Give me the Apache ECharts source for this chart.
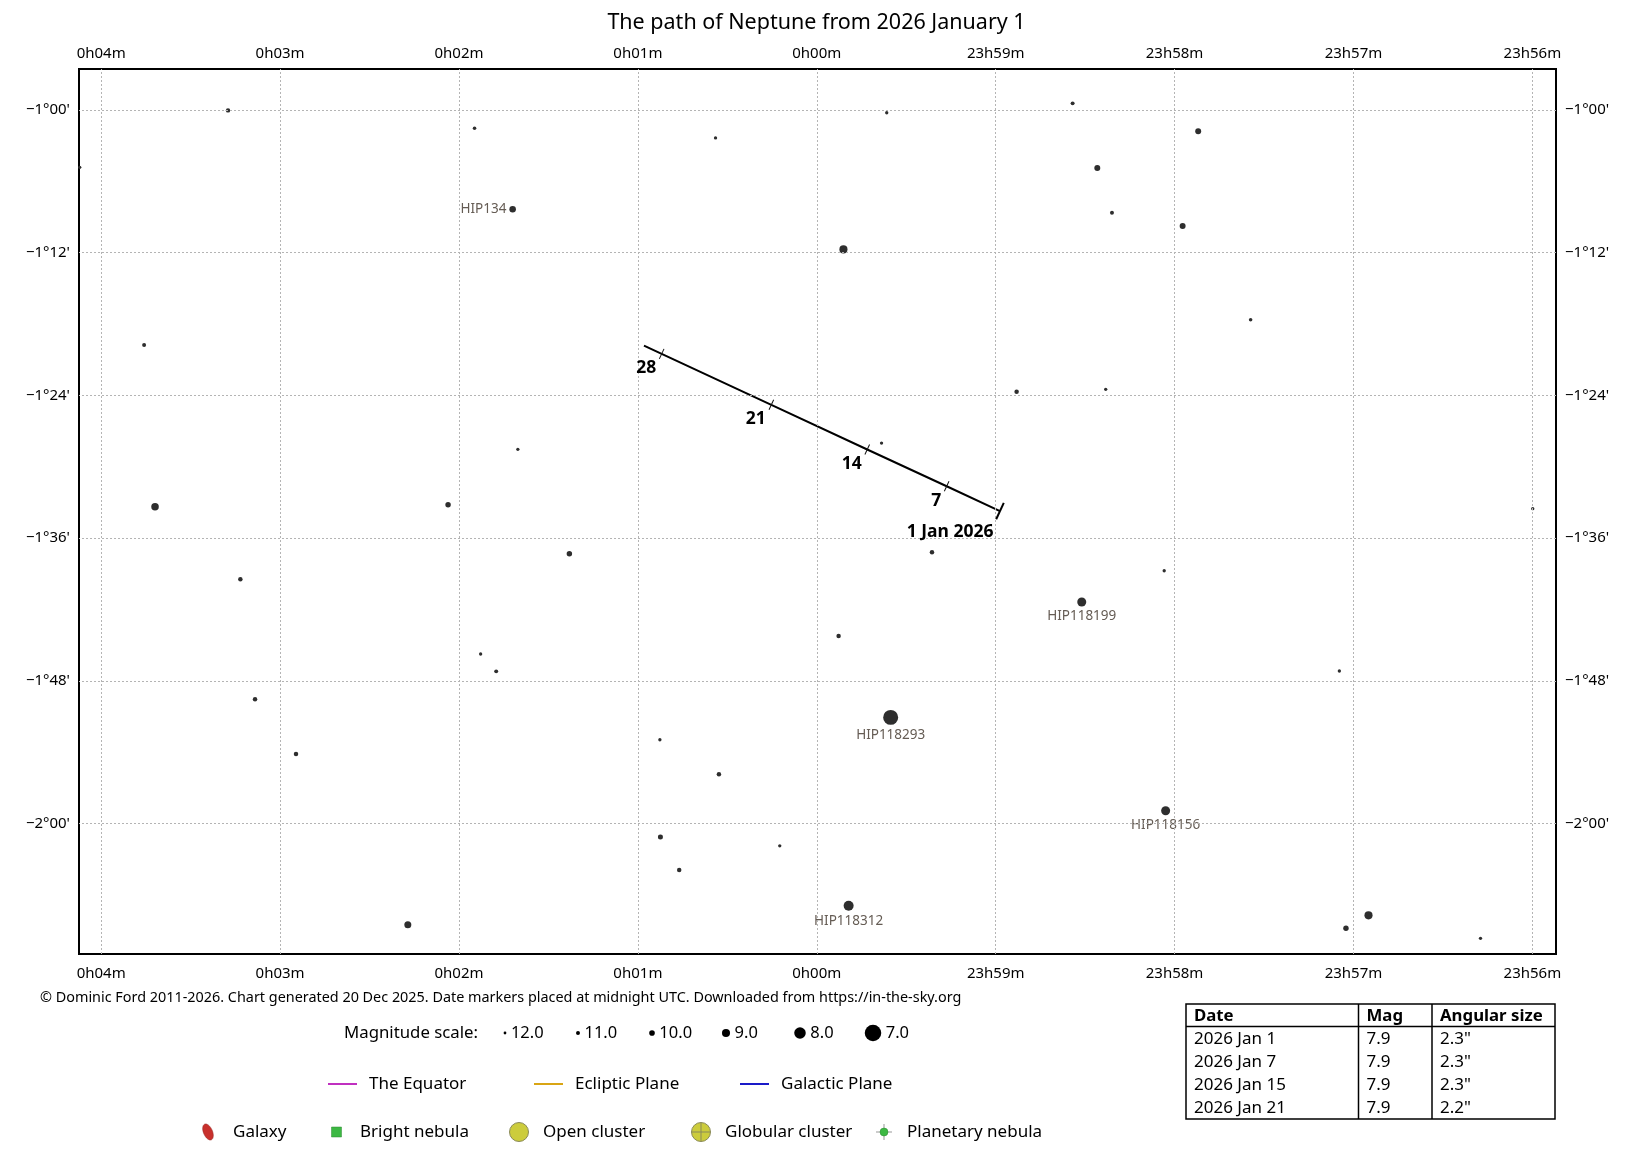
<!DOCTYPE html>
<html>
<head>
<meta charset="utf-8">
<title>The path of Neptune from 2026 January 1</title>
<script src="https://cdn.jsdelivr.net/npm/echarts@6/dist/echarts.min.js"></script>
<style>
  html, body { margin: 0; padding: 0; background: #fff; }
  #main { width: 1633px; height: 1151px; }
</style>
</head>
<body>
<div id="main"></div>
<script>
// RA in minutes of time from 0h00m (negative = 23h side), Dec in arcminutes
var raTicks = [-4, -3, -2, -1, 0, 1, 2, 3, 4];
var decTicks = [-120, -108, -96, -84, -72, -60];

var starRA = [3.291, 1.913, 0.566, 4.12, 1.700, 3.760, 1.671, 3.699, 2.061, -0.391,
  -1.430, -2.132, -1.568, -1.650, -2.045, -0.149, -2.425, -1.117, -1.615, -0.362,
  -4.002, 1.383, 3.222, 1.879, 1.792, 3.140, 2.911, 0.877, 0.547, 0.874,
  0.207, 0.769, 2.286, -0.644, -1.942, -1.481, -0.122, -2.921, -0.413, -1.950,
  -0.178, -3.084, -2.958, -3.710];
var starDec = [-60.03, -61.54, -62.35, -64.82, -68.35, -79.76, -88.54, -93.36, -93.20, -60.23,
  -59.44, -61.79, -64.88, -68.64, -69.76, -71.72, -77.64, -83.69, -83.49, -88.01,
  -93.53, -97.32, -99.47, -105.75, -107.21, -109.56, -114.16, -112.96, -115.87, -121.14,
  -121.88, -123.92, -128.52, -97.20, -98.75, -101.38, -104.24, -107.18, -111.08, -118.93,
  -126.92, -127.73, -128.82, -129.66];
var starMag = [10.7, 11.3, 11.5, 11.5, 9.6, 11.0, 11.5, 9.2, 10.1, 11.5,
  11.0, 9.85, 9.85, 11.0, 9.85, 9.0, 11.3, 10.65, 11.5, 11.5,
  11.5, 10.1, 10.65, 11.5, 11.0, 10.65, 10.65, 11.5, 10.65, 10.35,
  11.5, 10.65, 9.4, 10.65, 11.5, 8.7, 10.65, 11.5, 7.27, 8.7,
  8.4, 9.0, 10.1, 11.5];
var starName = ['', '', '', '', 'HIP134', '', '', '', '', '',
  '', '', '', '', '', '', '', '', '', '',
  '', '', '', '', '', '', '', '', '', '',
  '', '', '', '', '', 'HIP118199', '', '', 'HIP118293', 'HIP118156',
  'HIP118312', '', '', ''];

// Neptune, January 2026 (midnight UTC)
var pathDay = [1, 7, 14, 21, 28, 29];
var pathRA = [-1.024, -0.726, -0.282, 0.254, 0.867, 0.966];
var pathDec = [-93.73, -91.64, -88.55, -84.79, -80.51, -79.82];
var markDays = [1, 7, 14, 21, 28];

var magScale = [12, 11, 10, 9, 8, 7];

var tableHead = ['Date', 'Mag', 'Angular size'];
var tableDate = ['2026 Jan 1', '2026 Jan 7', '2026 Jan 15', '2026 Jan 21'];
var tableMag = ['7.9', '7.9', '7.9', '7.9'];
var tableSize = ['2.3"', '2.3"', '2.3"', '2.2"'];

var FONT = '"Noto Sans", "DejaVu Sans", sans-serif';

function starSize(m) { return 16.5 * Math.pow(0.7, m - 7); }

function raLabel(v) {
  var m = Math.round(v);
  return m >= 0 ? '0h0' + m + 'm' : '23h' + (60 + m) + 'm';
}
function decLabel(v) {
  var a = -Math.round(v), d = Math.floor(a / 60), m = a % 60;
  return '\u2212' + d + '\u00b0' + (m < 10 ? '0' : '') + m + "'";
}

var chart = echarts.init(document.getElementById('main'));

var starData = starRA.map(function (r, i) {
  var item = { value: [r, starDec[i], starMag[i]], name: starName[i] };
  if (starName[i]) {
    item.label = { show: true, position: starName[i] === 'HIP134' ? 'left' : 'bottom', distance: 3 };
  }
  return item;
});

var pathIdx = function (d) { return pathDay.indexOf(d); };
var tickData = markDays.filter(function (d) { return d !== 1; }).map(function (d) {
  var i = pathIdx(d);
  return [pathRA[i], pathDec[i], d];
});
var startData = [[pathRA[0], pathDec[0], 1]];
var labelData = markDays.map(function (d) {
  var i = pathIdx(d);
  var it = { value: [pathRA[i], pathDec[i], d] };
  if (d === 1) it.label = { position: [-6, 12] };
  return it;
});

// footer decoration
var graphic = [];
function txt(x, y, s, opt) {
  opt = opt || {};
  graphic.push({
    type: 'text', x: x, y: y, silent: true,
    style: {
      text: s, fill: opt.fill || '#000', fontSize: opt.size || 16, fontFamily: FONT,
      fontWeight: opt.weight || 'normal', align: opt.align || 'left', verticalAlign: 'middle'
    }
  });
}

txt(40, 998, '\u00a9 Dominic Ford 2011-2026. Chart generated 20 Dec 2025. Date markers placed at midnight UTC. Downloaded from https://in-the-sky.org', { size: 14.4 });

// magnitude scale
txt(344, 1033, 'Magnitude scale:', { size: 16.8 });
var magX = [505, 578, 652, 726, 800, 873];
magScale.forEach(function (m, i) {
  var r = starSize(m) / 2;
  graphic.push({ type: 'circle', silent: true, shape: { cx: magX[i], cy: 1033, r: r }, style: { fill: '#000' } });
  txt(magX[i] + r + 4.5, 1033, m.toFixed(1), { size: 16.5 });
});

// reference lines legend
var planes = [['The Equator', '#c030c0', 328], ['Ecliptic Plane', '#d9a514', 534], ['Galactic Plane', '#1a1ac8', 740]];
planes.forEach(function (p) {
  graphic.push({ type: 'line', silent: true, shape: { x1: p[2], y1: 1084, x2: p[2] + 29, y2: 1084 }, style: { stroke: p[1], lineWidth: 2 } });
  txt(p[2] + 41, 1084, p[0], { size: 17 });
});

// object types legend
var oy = 1132;
graphic.push({ type: 'ellipse', silent: true, x: 208, y: oy, rotation: 0.4, shape: { cx: 0, cy: 0, rx: 4.5, ry: 8.5 }, style: { fill: '#c8302c', stroke: '#9a2a26', lineWidth: 0.5 } });
txt(233, oy, 'Galaxy', { size: 17 });
graphic.push({ type: 'rect', silent: true, shape: { x: 331.5, y: oy - 5, width: 10, height: 10 }, style: { fill: '#3cb843', stroke: '#2e8a33', lineWidth: 0.5 } });
txt(360, oy, 'Bright nebula', { size: 17 });
graphic.push({ type: 'circle', silent: true, shape: { cx: 519, cy: oy, r: 9.5 }, style: { fill: '#cccc3c', stroke: '#8a8a5a', lineWidth: 1 } });
txt(543, oy, 'Open cluster', { size: 17 });
graphic.push({ type: 'circle', silent: true, shape: { cx: 701, cy: oy, r: 9.5 }, style: { fill: '#cccc3c', stroke: '#8a8a5a', lineWidth: 1 } });
graphic.push({ type: 'line', silent: true, shape: { x1: 691.5, y1: oy, x2: 710.5, y2: oy }, style: { stroke: '#8a8a5a', lineWidth: 1 } });
graphic.push({ type: 'line', silent: true, shape: { x1: 701, y1: oy - 9.5, x2: 701, y2: oy + 9.5 }, style: { stroke: '#8a8a5a', lineWidth: 1 } });
txt(725, oy, 'Globular cluster', { size: 17 });
graphic.push({ type: 'line', silent: true, shape: { x1: 876, y1: oy, x2: 892, y2: oy }, style: { stroke: '#999', lineWidth: 1 } });
graphic.push({ type: 'line', silent: true, shape: { x1: 884, y1: oy - 8, x2: 884, y2: oy + 8 }, style: { stroke: '#999', lineWidth: 1 } });
graphic.push({ type: 'circle', silent: true, shape: { cx: 884, cy: oy, r: 4 }, style: { fill: '#3cb843', stroke: '#2e8a33', lineWidth: 0.5 } });
txt(907, oy, 'Planetary nebula', { size: 17 });

// table
var tx = [1186, 1358.5, 1432, 1555], ty0 = 1004, ty1 = 1119, rowH = 22.9;
graphic.push({ type: 'rect', silent: true, shape: { x: tx[0], y: ty0, width: tx[3] - tx[0], height: ty1 - ty0 }, style: { fill: 'none', stroke: '#000', lineWidth: 1.5 } });
graphic.push({ type: 'line', silent: true, shape: { x1: tx[0], y1: 1026.5, x2: tx[3], y2: 1026.5 }, style: { stroke: '#000', lineWidth: 1.5 } });
[tx[1], tx[2]].forEach(function (x) {
  graphic.push({ type: 'line', silent: true, shape: { x1: x, y1: ty0, x2: x, y2: ty1 }, style: { stroke: '#000', lineWidth: 1.5 } });
});
tableHead.forEach(function (h, c) { txt(tx[c] + 8, 1016, h, { size: 16.8, weight: 'bold' }); });
tableDate.forEach(function (d, r) {
  var y = 1039 + r * rowH;
  txt(tx[0] + 8, y, d, { size: 17 });
  txt(tx[1] + 8, y, tableMag[r], { size: 17 });
  txt(tx[2] + 8, y, tableSize[r], { size: 17 });
});

var xCommon = {
  type: 'value', inverse: true, min: -4.132, max: 4.124,
  axisLine: { show: false }, axisTick: { show: false }, splitLine: { show: false },
  axisLabel: { customValues: raTicks, formatter: raLabel, color: '#000', fontSize: 15, fontFamily: FONT }
};
var yCommon = {
  type: 'value', min: -130.98, max: -56.55,
  axisLine: { show: false }, axisTick: { show: false }, splitLine: { show: false },
  axisLabel: { customValues: decTicks, formatter: decLabel, color: '#000', fontSize: 15, fontFamily: FONT, margin: 9 }
};

chart.setOption({
  animation: false,
  backgroundColor: '#fff',
  textStyle: { fontFamily: FONT },
  title: {
    text: 'The path of Neptune from 2026 January 1', left: 'center', top: 7,
    textStyle: { fontSize: 21.5, fontWeight: 'normal', color: '#000', fontFamily: FONT }
  },
  grid: { left: 79, right: 77, top: 69, bottom: 197, show: true, borderColor: '#000', borderWidth: 2, backgroundColor: 'transparent' },
  xAxis: [
    Object.assign({ position: 'bottom' }, xCommon, { axisLabel: Object.assign({}, xCommon.axisLabel, { margin: 12 }) }),
    Object.assign({ position: 'top' }, xCommon, { axisLabel: Object.assign({}, xCommon.axisLabel, { margin: 8 }) })
  ],
  yAxis: [
    Object.assign({ position: 'left' }, yCommon),
    Object.assign({ position: 'right' }, yCommon)
  ],
  graphic: graphic,
  series: [
    {
      name: 'grid', type: 'scatter', data: [], z: 1, silent: true,
      markLine: {
        silent: true, symbol: ['none', 'none'], label: { show: false },
        lineStyle: { color: '#b4b4b4', type: [2, 2], width: 1 },
        data: raTicks.map(function (v) { return { xAxis: v }; })
          .concat(decTicks.map(function (v) { return { yAxis: v }; }))
      }
    },
    {
      name: 'stars', type: 'scatter', z: 3, silent: true,
      data: starData,
      symbolSize: function (v) { return starSize(v[2]); },
      itemStyle: { color: '#2e2e2e', opacity: 1 },
      label: { show: false, formatter: '{b}', color: '#655c54', fontSize: 13.5, fontFamily: FONT }
    },
    {
      name: 'Neptune', type: 'line', z: 4, silent: true,
      data: pathRA.map(function (r, i) { return [r, pathDec[i]]; }),
      showSymbol: false, lineStyle: { color: '#000', width: 2 }
    },
    {
      name: 'ticks', type: 'scatter', z: 5, silent: true,
      data: tickData, symbol: 'rect', symbolSize: [1, 11], symbolRotate: -25,
      itemStyle: { color: '#111', opacity: 1 }
    },
    {
      name: 'start', type: 'scatter', z: 5, silent: true,
      data: startData, symbol: 'rect', symbolSize: [2, 18], symbolRotate: -25,
      itemStyle: { color: '#000', opacity: 1 }
    },
    {
      name: 'dates', type: 'scatter', z: 6, silent: true,
      data: labelData, symbolSize: 1, itemStyle: { color: 'rgba(0,0,0,0)', opacity: 1 },
      label: {
        show: true, position: [-5, 6], align: 'right', verticalAlign: 'top',
        formatter: function (p) { return p.value[2] === 1 ? '1 Jan 2026' : String(p.value[2]); },
        color: '#000', fontWeight: 'bold', fontSize: 17.5, fontFamily: FONT
      }
    }
  ]
});
</script>
</body>
</html>
